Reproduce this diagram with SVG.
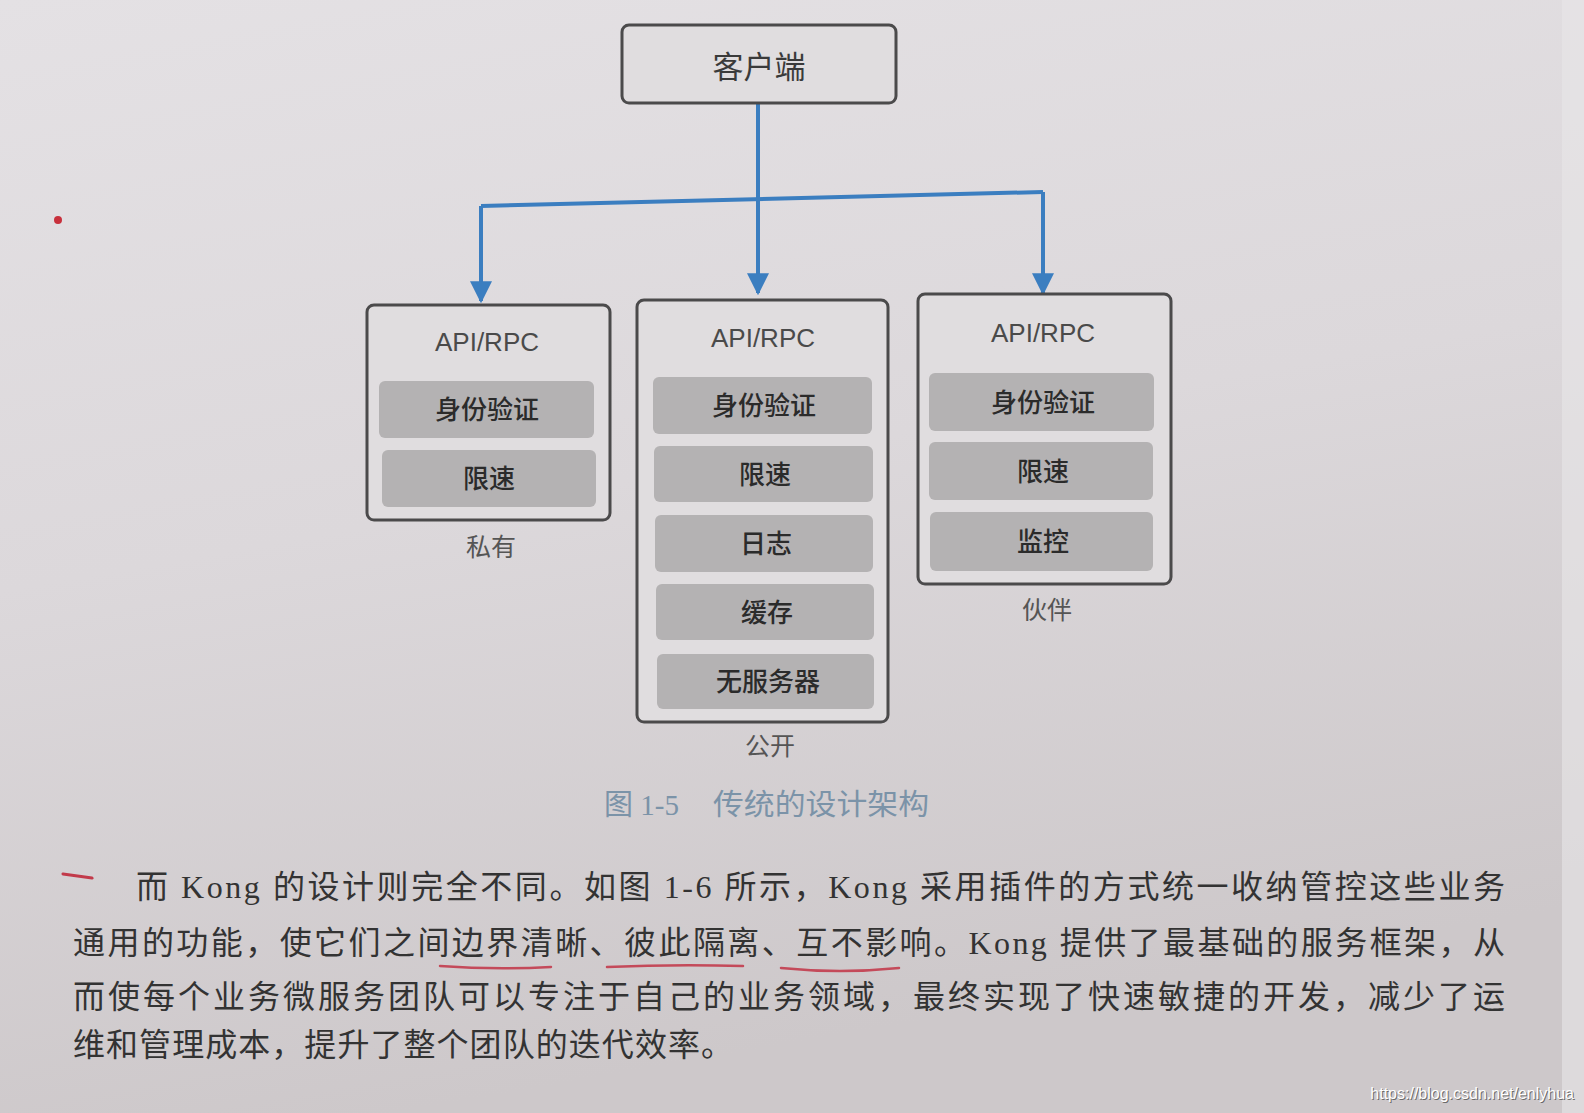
<svg xmlns="http://www.w3.org/2000/svg" width="1584" height="1113" viewBox="0 0 1584 1113">
<defs>
<linearGradient id="bg" x1="0" y1="0" x2="0.25" y2="1">
<stop offset="0" stop-color="#e4e1e4"/>
<stop offset="0.5" stop-color="#dcd8db"/>
<stop offset="1" stop-color="#cdc8ca"/>
</linearGradient>
<marker id="ah" viewBox="0 0 10 10" refX="9" refY="5" markerWidth="5.5" markerHeight="5.5" orient="auto" markerUnits="strokeWidth">
<path d="M0,0 L10,5 L0,10 Z" fill="#3b7ec0"/>
</marker>
<style>
.box{fill:#e0dddf;stroke:#4b4a4b;stroke-width:3}
.item{fill:#b4b2b3}
.api{font-family:"Liberation Sans",Arial,sans-serif;font-size:26px;fill:#4a4a4a;text-anchor:middle}
.it{font-family:"Noto Sans CJK SC",sans-serif;font-size:26px;font-weight:500;fill:#2b2b2b;text-anchor:middle}
.lab{font-family:"Noto Sans CJK SC",sans-serif;font-size:25px;fill:#555;text-anchor:middle}
.conn{fill:none;stroke:#3b7ec0;stroke-width:4}
.para{font-family:"Liberation Serif","Noto Sans CJK SC",serif;font-size:32px;fill:#333333}
.ul{stroke:#c44a5a;stroke-width:2.5;fill:none;stroke-linecap:round}
.wm{font-family:"Liberation Sans",Arial,sans-serif;font-size:16px;text-anchor:end}
</style>
</defs>
<rect width="1584" height="1113" fill="url(#bg)"/>
<rect x="1562" y="0" width="22" height="1113" fill="#e8e6e8" opacity="0.6"/>

<g id="connectors">
<line class="conn" x1="758" y1="103" x2="758" y2="293" marker-end="url(#ah)"/>
<polyline class="conn" points="481,206 1043,192"/>
<line class="conn" x1="481" y1="206" x2="481" y2="301" marker-end="url(#ah)"/>
<line class="conn" x1="1043" y1="192" x2="1043" y2="293" marker-end="url(#ah)"/>
</g>

<g id="client">
<rect class="box" x="622" y="25" width="274" height="78" rx="7"/>
<text x="759" y="78" font-family="Noto Sans CJK SC,sans-serif" font-size="31" fill="#3a3a3a" text-anchor="middle">客户端</text>
</g>

<g id="private">
<rect class="box" x="367" y="305" width="243" height="215" rx="7"/>
<text class="api" x="487" y="351">API/RPC</text>
<rect class="item" x="379" y="381" width="215" height="57" rx="6"/>
<text class="it" x="487" y="419">身份验证</text>
<rect class="item" x="382" y="450" width="214" height="57" rx="6"/>
<text class="it" x="489" y="488">限速</text>
<text class="lab" x="491" y="556">私有</text>
</g>

<g id="public">
<rect class="box" x="637" y="300" width="251" height="422" rx="7"/>
<text class="api" x="763" y="347">API/RPC</text>
<rect class="item" x="653" y="377" width="219" height="57" rx="6"/>
<text class="it" x="764" y="415">身份验证</text>
<rect class="item" x="654" y="446" width="219" height="56" rx="6"/>
<text class="it" x="765" y="484">限速</text>
<rect class="item" x="655" y="515" width="218" height="57" rx="6"/>
<text class="it" x="766" y="553">日志</text>
<rect class="item" x="656" y="584" width="218" height="56" rx="6"/>
<text class="it" x="767" y="622">缓存</text>
<rect class="item" x="657" y="654" width="217" height="55" rx="6"/>
<text class="it" x="768" y="691">无服务器</text>
<text class="lab" x="770" y="755">公开</text>
</g>

<g id="partner">
<rect class="box" x="918" y="294" width="253" height="290" rx="7"/>
<text class="api" x="1043" y="342">API/RPC</text>
<rect class="item" x="929" y="373" width="225" height="58" rx="6"/>
<text class="it" x="1043" y="412">身份验证</text>
<rect class="item" x="929" y="442" width="224" height="58" rx="6"/>
<text class="it" x="1043" y="481">限速</text>
<rect class="item" x="930" y="512" width="223" height="59" rx="6"/>
<text class="it" x="1043" y="551">监控</text>
<text class="lab" x="1047" y="619">伙伴</text>
</g>

<text x="604" y="815" font-family="Liberation Serif,Noto Sans CJK SC,serif" font-size="29" fill="#7b93a8">图 1-5</text>
<text x="713" y="815" font-family="Noto Sans CJK SC,sans-serif" font-size="29" fill="#7b93a8" textLength="216" lengthAdjust="spacingAndGlyphs">传统的设计架构</text>

<text class="para" x="136" y="898" textLength="1369" lengthAdjust="spacing">而 Kong 的设计则完全不同。如图 1-6 所示，Kong 采用插件的方式统一收纳管控这些业务</text>
<text class="para" x="73" y="954" textLength="1432" lengthAdjust="spacing">通用的功能，使它们之间边界清晰、彼此隔离、互不影响。Kong 提供了最基础的服务框架，从</text>
<text class="para" x="73" y="1008" textLength="1432" lengthAdjust="spacing">而使每个业务微服务团队可以专注于自己的业务领域，最终实现了快速敏捷的开发，减少了运</text>
<text class="para" x="73" y="1056" textLength="660" lengthAdjust="spacing">维和管理成本，提升了整个团队的迭代效率。</text>

<g id="marks">
<path class="ul" d="M440,966 Q495,970 551,967"/>
<path class="ul" d="M607,967 Q675,964 743,966"/>
<path class="ul" d="M781,968 Q840,974 899,968"/>
<path d="M63,874 L92,878" stroke="#c23a4a" stroke-width="3" stroke-linecap="round"/>
<circle cx="58" cy="220" r="4" fill="#c8303c"/>
</g>

<text class="wm" x="1575" y="1100" fill="#6a6a6a">https://blog.csdn.net/enlyhua</text>
<text class="wm" x="1574" y="1099" fill="#ffffff">https://blog.csdn.net/enlyhua</text>
</svg>
